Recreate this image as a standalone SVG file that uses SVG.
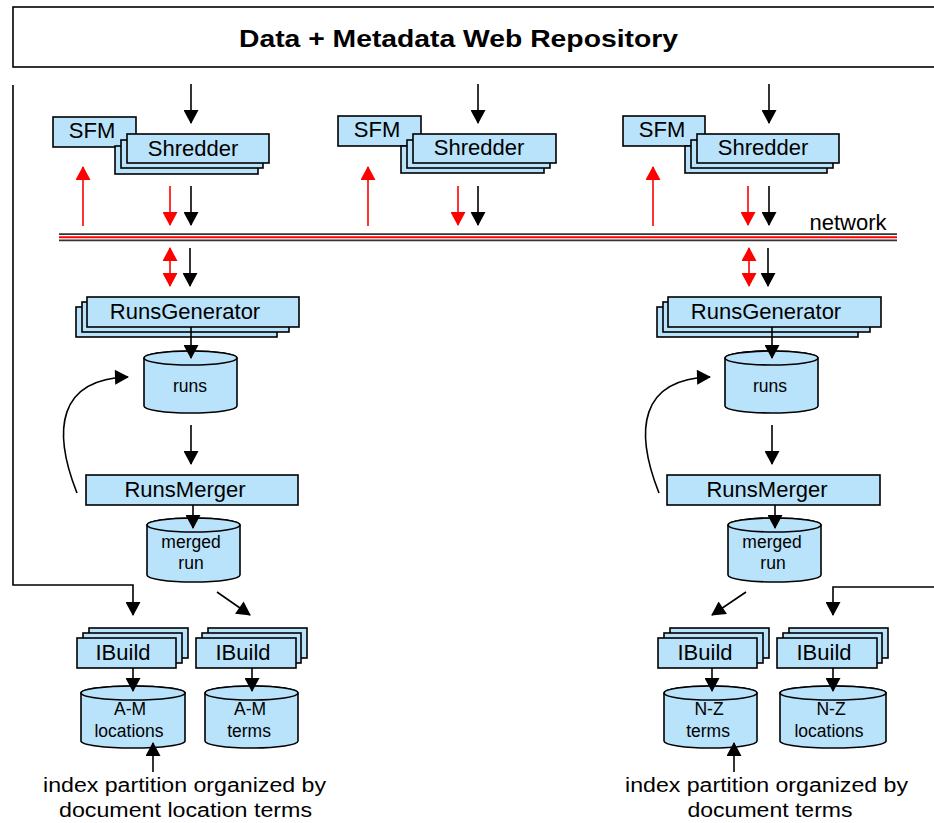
<svg xmlns="http://www.w3.org/2000/svg" width="934" height="823" viewBox="0 0 934 823">
<style>
.box{fill:#b9e2fb;stroke:#000;stroke-width:1.6}
.lbl{font-family:"Liberation Sans",Arial,sans-serif;font-size:22px;fill:#000;text-anchor:middle}
.sm{font-family:"Liberation Sans",Arial,sans-serif;font-size:17.5px;fill:#000;text-anchor:middle}
.cap{font-family:"Liberation Sans",Arial,sans-serif;font-size:20px;fill:#000;text-anchor:middle}
.ln{fill:none;stroke:#000;stroke-width:1.6}
.arr{fill:none;stroke:#000;stroke-width:1.6;marker-end:url(#ah)}
.red{fill:none;stroke:#f00;stroke-width:1.6;marker-end:url(#rh)}
</style>
<defs>
<marker id="ah" markerUnits="userSpaceOnUse" markerWidth="15" markerHeight="15" viewBox="0 0 14 15" refX="13" refY="7.5" orient="auto"><path d="M0,0 L14,7.5 L0,15 z" fill="#000"/></marker>
<marker id="rh" markerUnits="userSpaceOnUse" markerWidth="15" markerHeight="15" viewBox="0 0 14 15" refX="13" refY="7.5" orient="auto-start-reverse"><path d="M0,0 L14,7.5 L0,15 z" fill="#f00"/></marker>
</defs>
<rect width="934" height="823" fill="#fff"/>

<g id="repository">
<rect x="13" y="7" width="930" height="60" fill="#fff" stroke="#000" stroke-width="1.6"/>
<text x="458.5" y="47" font-family="'Liberation Sans',Arial,sans-serif" font-size="23" font-weight="bold" text-anchor="middle" textLength="439" lengthAdjust="spacingAndGlyphs">Data + Metadata Web Repository</text>
</g>

<g id="network">
<line x1="59" y1="234.2" x2="897" y2="234.2" stroke="#333" stroke-width="1.8"/>
<line x1="59" y1="237.3" x2="897" y2="237.3" stroke="#f00" stroke-width="2"/>
<line x1="59" y1="240.4" x2="897" y2="240.4" stroke="#333" stroke-width="1.8"/>
<text x="848" y="230" class="lbl">network</text>
</g>

<!-- column 1 -->
<g id="sfm1"><rect class="box" x="53" y="117" width="83" height="30"/><text class="lbl" x="92" y="138">SFM</text></g>
<g id="shredder1">
<rect class="box" x="115" y="146" width="143" height="28"/>
<rect class="box" x="121" y="140" width="142" height="28"/>
<rect class="box" x="127" y="134" width="142" height="29"/>
<text class="lbl" x="193" y="156">Shredder</text>
</g>
<!-- column 2 -->
<g id="sfm2"><rect class="box" x="338" y="116" width="83" height="30"/><text class="lbl" x="377" y="137">SFM</text></g>
<g id="shredder2">
<rect class="box" x="401" y="146" width="143" height="27"/>
<rect class="box" x="407" y="140" width="143" height="28"/>
<rect class="box" x="413" y="134" width="143" height="29"/>
<text class="lbl" x="479" y="155">Shredder</text>
</g>
<!-- column 3 -->
<g id="sfm3"><rect class="box" x="623" y="116" width="82" height="30"/><text class="lbl" x="662" y="137">SFM</text></g>
<g id="shredder3">
<rect class="box" x="685" y="146" width="142" height="27"/>
<rect class="box" x="691" y="140" width="142" height="28"/>
<rect class="box" x="697" y="134" width="142" height="29"/>
<text class="lbl" x="763" y="155">Shredder</text>
</g>

<!-- left pipeline -->
<g id="runsgen1">
<rect class="box" x="76" y="307" width="201" height="30"/>
<rect class="box" x="82" y="302" width="207" height="30"/>
<rect class="box" x="87" y="297" width="212" height="30"/>
<text class="lbl" x="185" y="319">RunsGenerator</text>
</g>
<g id="runs1">
<path class="box" d="M144,358 V406 A46.5,7 0 0 0 237,406 V358 A46.5,7 0 0 0 144,358 Z"/>
<ellipse class="box" cx="190.5" cy="358" rx="46.5" ry="7"/>
<text class="sm" x="190" y="392">runs</text>
</g>
<g id="runsmerger1">
<rect class="box" x="86" y="475" width="212" height="30"/>
<text class="lbl" x="185" y="497">RunsMerger</text>
</g>
<g id="merged1">
<path class="box" d="M147,525 V575 A46.5,7 0 0 0 240,575 V525 A46.5,7 0 0 0 147,525 Z"/>
<ellipse class="box" cx="193.5" cy="525" rx="46.5" ry="7"/>
<text class="sm" x="191" y="548">merged</text>
<text class="sm" x="191" y="569">run</text>
</g>

<!-- right pipeline -->
<g id="runsgen2">
<rect class="box" x="657" y="307" width="201" height="30"/>
<rect class="box" x="663" y="302" width="207" height="30"/>
<rect class="box" x="668" y="297" width="213" height="30"/>
<text class="lbl" x="766" y="319">RunsGenerator</text>
</g>
<g id="runs2">
<path class="box" d="M725,358 V406 A46.5,7 0 0 0 818,406 V358 A46.5,7 0 0 0 725,358 Z"/>
<ellipse class="box" cx="771.5" cy="358" rx="46.5" ry="7"/>
<text class="sm" x="770" y="392">runs</text>
</g>
<g id="runsmerger2">
<rect class="box" x="667" y="475" width="213" height="30"/>
<text class="lbl" x="767" y="497">RunsMerger</text>
</g>
<g id="merged2">
<path class="box" d="M728,525 V575 A46.5,7 0 0 0 821,575 V525 A46.5,7 0 0 0 728,525 Z"/>
<ellipse class="box" cx="774.5" cy="525" rx="46.5" ry="7"/>
<text class="sm" x="772" y="548">merged</text>
<text class="sm" x="773" y="569">run</text>
</g>

<!-- IBuild stacks -->
<g id="ibuild1">
<rect class="box" x="89" y="628" width="99" height="30"/>
<rect class="box" x="83" y="633" width="99" height="30"/>
<rect class="box" x="77" y="638" width="99" height="30"/>
<text class="lbl" x="123" y="660">IBuild</text>
</g>
<g id="ibuild2">
<rect class="box" x="208" y="628" width="99" height="30"/>
<rect class="box" x="202" y="633" width="99" height="30"/>
<rect class="box" x="196" y="638" width="100" height="30"/>
<text class="lbl" x="243" y="660">IBuild</text>
</g>
<g id="ibuild3">
<rect class="box" x="670" y="628" width="99" height="30"/>
<rect class="box" x="664" y="633" width="99" height="30"/>
<rect class="box" x="658" y="638" width="99" height="30"/>
<text class="lbl" x="705" y="660">IBuild</text>
</g>
<g id="ibuild4">
<rect class="box" x="789" y="628" width="99" height="30"/>
<rect class="box" x="783" y="633" width="99" height="30"/>
<rect class="box" x="777" y="638" width="100" height="30"/>
<text class="lbl" x="824" y="660">IBuild</text>
</g>

<g id="am-locations">
<path class="box" d="M81,693 V741 A52,7 0 0 0 185,741 V693 A52,7 0 0 0 81,693 Z"/>
<ellipse class="box" cx="133" cy="693" rx="52" ry="7"/>
<text class="sm" x="130" y="715">A-M</text>
<text class="sm" x="129" y="737">locations</text>
</g>
<g id="am-terms">
<path class="box" d="M205,693 V741 A46.5,7 0 0 0 298,741 V693 A46.5,7 0 0 0 205,693 Z"/>
<ellipse class="box" cx="251.5" cy="693" rx="46.5" ry="7"/>
<text class="sm" x="250" y="715">A-M</text>
<text class="sm" x="249" y="737">terms</text>
</g>
<g id="nz-terms">
<path class="box" d="M664,693 V741 A46.5,7 0 0 0 757,741 V693 A46.5,7 0 0 0 664,693 Z"/>
<ellipse class="box" cx="710.5" cy="693" rx="46.5" ry="7"/>
<text class="sm" x="709" y="715">N-Z</text>
<text class="sm" x="708" y="737">terms</text>
</g>
<g id="nz-locations">
<path class="box" d="M780,693 V741 A53,7 0 0 0 886,741 V693 A53,7 0 0 0 780,693 Z"/>
<ellipse class="box" cx="833" cy="693" rx="53" ry="7"/>
<text class="sm" x="831" y="715">N-Z</text>
<text class="sm" x="829" y="737">locations</text>
</g>

<g id="caption-left">
<text class="cap" x="184.5" y="792" textLength="283" lengthAdjust="spacingAndGlyphs">index partition organized by</text>
<text class="cap" x="185.5" y="817" textLength="253" lengthAdjust="spacingAndGlyphs">document location terms</text>
</g>
<g id="caption-right">
<text class="cap" x="766.5" y="792" textLength="283" lengthAdjust="spacingAndGlyphs">index partition organized by</text>
<text class="cap" x="770" y="817" textLength="165" lengthAdjust="spacingAndGlyphs">document terms</text>
</g>

<g id="connectors">
<line class="arr" x1="191" y1="84" x2="191" y2="123"/>
<line class="arr" x1="478" y1="84" x2="478" y2="123"/>
<line class="arr" x1="769" y1="84" x2="769" y2="123"/>
<line class="red" x1="83" y1="226" x2="83" y2="167"/>
<line class="red" x1="368" y1="226" x2="368" y2="167"/>
<line class="red" x1="653" y1="226" x2="653" y2="167"/>
<line class="red" x1="170" y1="186" x2="170" y2="225"/>
<line class="red" x1="458" y1="186" x2="458" y2="225"/>
<line class="red" x1="748" y1="186" x2="748" y2="225"/>
<line class="arr" x1="191" y1="186" x2="191" y2="225"/>
<line class="arr" x1="478" y1="186" x2="478" y2="225"/>
<line class="arr" x1="769" y1="186" x2="769" y2="225"/>
<line class="red" x1="170" y1="248" x2="170" y2="286" marker-start="url(#rh)"/>
<line class="red" x1="749" y1="248" x2="749" y2="286" marker-start="url(#rh)"/>
<line class="arr" x1="190" y1="248" x2="190" y2="286"/>
<line class="arr" x1="768" y1="248" x2="768" y2="286"/>
<line class="arr" x1="191" y1="327" x2="191" y2="358"/>
<line class="arr" x1="772" y1="327" x2="772" y2="358"/>
<line class="arr" x1="191" y1="425" x2="191" y2="464"/>
<line class="arr" x1="772" y1="425" x2="772" y2="464"/>
<path class="arr" d="M77,493 C52,430 58,379 128,377"/>
<path class="arr" d="M659,493 C634,430 640,379 710,377"/>
<line class="arr" x1="193" y1="505" x2="193" y2="528"/>
<line class="arr" x1="775" y1="505" x2="775" y2="528"/>
<path class="arr" d="M13,85 V585 H133 V615"/>
<path class="arr" d="M940,587 H833 V615"/>
<line class="arr" x1="217" y1="592" x2="250" y2="615"/>
<line class="arr" x1="746" y1="592" x2="712" y2="615"/>
<line class="arr" x1="133" y1="668" x2="133" y2="691"/>
<line class="arr" x1="252" y1="668" x2="252" y2="691"/>
<line class="arr" x1="712" y1="668" x2="712" y2="691"/>
<line class="arr" x1="833" y1="668" x2="833" y2="691"/>
<line class="arr" x1="153" y1="772" x2="153" y2="743"/>
<line class="arr" x1="734" y1="772" x2="734" y2="743"/>
</g>
</svg>
